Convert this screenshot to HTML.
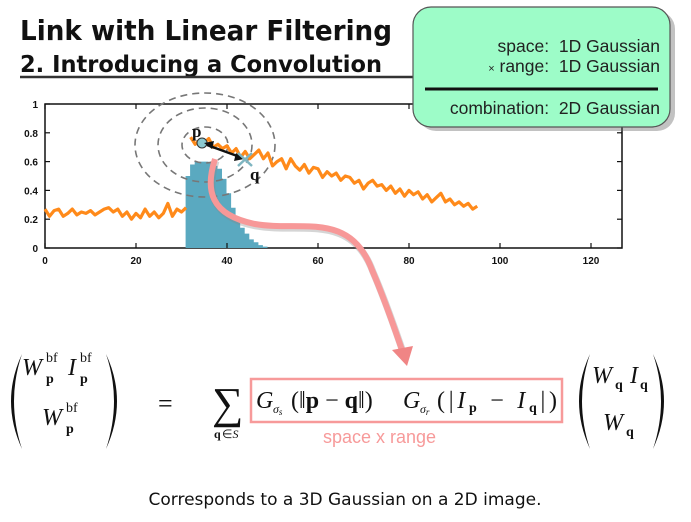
<!DOCTYPE html>
<html><head><meta charset="utf-8"><style>
html,body{margin:0;padding:0;background:#fff;}
svg{display:block;}
.s{font-family:"Liberation Serif",serif;}
</style></head><body>
<svg id="sv" width="691" height="522" viewBox="0 0 691 522" xmlns="http://www.w3.org/2000/svg">
<rect width="691" height="522" fill="#fff"/>
<text x="20" y="40" font-family="DejaVu Sans, sans-serif" font-weight="bold" font-size="28" textLength="372" lengthAdjust="spacingAndGlyphs" fill="#111">Link with Linear Filtering</text>
<text x="20" y="72" font-family="DejaVu Sans, sans-serif" font-weight="bold" font-size="23" textLength="362" lengthAdjust="spacingAndGlyphs" fill="#111">2. Introducing a Convolution</text>
<line x1="20" y1="77" x2="415" y2="77" stroke="#333" stroke-width="2.5"/>
<g id="plot">
<rect x="45" y="104" width="577" height="144" fill="none" stroke="#111" stroke-width="1.5"/>
<path id="hist" fill="#5aa9c0"/>
<g id="ticks" stroke="#111" stroke-width="1.2"></g>
<g font-family="Liberation Sans, sans-serif" font-size="10" font-weight="bold" fill="#111" id="lbl"></g>
<ellipse cx="205" cy="145" rx="70" ry="52" fill="none" stroke="#777" stroke-width="1.6" stroke-dasharray="7,5"/>
<ellipse cx="205" cy="145" rx="47" ry="37" fill="none" stroke="#777" stroke-width="1.6" stroke-dasharray="7,5"/>
<ellipse cx="205" cy="145" rx="23" ry="18" fill="none" stroke="#777" stroke-width="1.6" stroke-dasharray="7,5"/>
<path id="orange" fill="none" stroke="#ff8a1a" stroke-width="3.2" stroke-linejoin="round"/>
<circle cx="202" cy="143" r="5" fill="#8cc8d0" stroke="#333" stroke-width="1"/>
<line x1="207" y1="145" x2="240" y2="157" stroke="#111" stroke-width="2.5"/>
<polygon points="204,143 214,141 212,149" fill="#111"/>
<polygon points="244,159 234,161 236,153" fill="#111"/>
<path d="M238,153 L252,166 M252,153 L238,166" stroke="#7fb5c0" stroke-width="2.5"/>
<text x="192" y="137" class="s" font-size="17" font-weight="bold" fill="#111">p</text>
<text x="250" y="180" class="s" font-size="17" font-weight="bold" fill="#111">q</text>
</g>
<path d="M215,159 C205,190 210,215 255,224 C300,232 350,210 372,270 C385,300 395,330 402,350" fill="none" stroke="#888" stroke-width="7" opacity="0.35" transform="translate(1,2)"/>
<path d="M215,159 C205,190 210,215 255,224 C300,232 350,210 372,270 C385,300 395,330 402,350" fill="none" stroke="#f79898" stroke-width="6"/>
<polygon points="392,350 413,346 407,366" fill="#f08585"/>
<rect x="415" y="8" width="257" height="120" rx="18" fill="#666" opacity="0.4" transform="translate(3,3)"/>
<rect x="413" y="7" width="257" height="120" rx="18" fill="#9dfcc8" stroke="#555" stroke-width="1.2"/>
<g font-family="Liberation Sans, sans-serif" font-size="17.5" fill="#222" text-anchor="end">
<text x="660" y="52">space:&#160; 1D Gaussian</text>
<text x="660" y="72"><tspan font-size="11">×</tspan> range:&#160; 1D Gaussian</text>
<text x="660" y="114">combination:&#160; 2D Gaussian</text>
</g>
<line x1="425" y1="89" x2="658" y2="89" stroke="#111" stroke-width="3"/>
<g fill="#111">
<path d="M22,354 Q0,401 22,449 Q6,401 22,354Z"/>
<path d="M106,354 Q128,401 106,449 Q122,401 106,354Z"/>
<path d="M590,354 Q568,401 590,449 Q574,401 590,354Z"/>
<path d="M653,354 Q675,401 653,449 Q669,401 653,354Z"/>
</g>
<g class="s" fill="#111">
<text x="22" y="375" font-size="24" font-style="italic">W</text>
<text x="46" y="362" font-size="14">bf</text>
<text x="46" y="383" font-size="14" font-weight="bold">p</text>
<text x="68" y="375" font-size="24" font-style="italic">I</text>
<text x="80" y="362" font-size="14">bf</text>
<text x="80" y="383" font-size="14" font-weight="bold">p</text>
<text x="42" y="425" font-size="24" font-style="italic">W</text>
<text x="66" y="412" font-size="14">bf</text>
<text x="66" y="433" font-size="14" font-weight="bold">p</text>
<text x="158" y="412" font-size="26">=</text>
<text x="212" y="418" font-size="44">∑</text>
<text x="214" y="438" font-size="12" font-weight="bold">q</text><text x="222" y="438" font-size="12">∈<tspan font-style="italic">S</tspan></text>
<text x="256" y="408" font-size="24" font-style="italic">G</text>
<text x="273" y="413" font-size="12" font-style="italic">σ<tspan font-size="9" dy="2">s</tspan></text>
<text x="291" y="408" font-size="24">(‖<tspan font-weight="bold">p</tspan> − <tspan font-weight="bold">q</tspan>‖)</text>
<text x="403" y="408" font-size="24" font-style="italic">G</text>
<text x="420" y="413" font-size="12" font-style="italic">σ<tspan font-size="9" dy="2">r</tspan></text>
<text x="437" y="408" font-size="24" textLength="120" lengthAdjust="spacing">(|<tspan font-style="italic">I</tspan><tspan font-size="14" font-weight="bold" dy="4">p</tspan><tspan dy="-4"> − </tspan><tspan font-style="italic">I</tspan><tspan font-size="14" font-weight="bold" dy="4">q</tspan><tspan dy="-4">|)</tspan></text>
<text x="592" y="383" font-size="24" font-style="italic">W</text>
<text x="615" y="389" font-size="14" font-weight="bold">q</text>
<text x="630" y="383" font-size="24" font-style="italic">I</text>
<text x="640" y="389" font-size="14" font-weight="bold">q</text>
<text x="603" y="430" font-size="24" font-style="italic">W</text>
<text x="626" y="436" font-size="14" font-weight="bold">q</text>
</g>
<rect x="251" y="379" width="311" height="43" fill="none" stroke="#f79a9a" stroke-width="2.5"/>
<text x="323" y="443" font-family="Liberation Sans, sans-serif" font-size="18" fill="#f79a9a">space x range</text>
<text x="345" y="505" text-anchor="middle" font-family="DejaVu Sans, sans-serif" font-size="17" fill="#111">Corresponds to a 3D Gaussian on a 2D image.</text>
</svg>
<script>
var X=function(u){return 45+4.55*u},Y=function(v){return 248-144*v};
var v1=[.27,.22,.26,.27,.22,.24,.27,.23,.25,.24,.26,.23,.25,.27,.28,.25,.27,.22,.25,.2,.24,.21,.27,.22,.25,.21,.24,.31,.22,.27,.25,.28];
var v2=[.77,.72,.75,.73,.76,.7,.72,.69,.71,.66,.69,.63,.67,.62,.65,.68,.62,.66,.57,.6,.62,.55,.62,.57,.54,.58,.52,.56,.55,.49,.53,.5,.52,.47,.5,.49,.45,.47,.41,.45,.47,.43,.44,.4,.43,.38,.41,.36,.4,.37,.39,.34,.37,.32,.35,.38,.32,.34,.3,.32,.29,.31,.27,.29];
var d="M"+X(0)+","+Y(v1[0]);
for(var i=1;i<v1.length;i++)d+=" L"+X(i)+","+Y(v1[i]).toFixed(1);
d+=" M"+X(32)+","+Y(v2[0]);
for(var i=1;i<v2.length;i++)d+=" L"+X(32+i)+","+Y(v2[i]).toFixed(1);
document.getElementById("orange").setAttribute("d",d);
var h=[.5,.58,.6,.6,.6,.59,.57,.55,.48,.38,.28,.2,.14,.1,.06,.04,.02,.01];
var hd="M"+X(30.9).toFixed(1)+",248";
for(var i=0;i<h.length;i++){hd+=" L"+X(30.9+i).toFixed(1)+","+Y(h[i]).toFixed(1)+" L"+X(31.9+i).toFixed(1)+","+Y(h[i]).toFixed(1);}
hd+=" L"+X(30.9+h.length).toFixed(1)+",248Z";
document.getElementById("hist").setAttribute("d",hd);
var t="",l="";
for(var u=0;u<=120;u+=20){t+='<line x1="'+X(u)+'" y1="248" x2="'+X(u)+'" y2="243"/><line x1="'+X(u)+'" y1="104" x2="'+X(u)+'" y2="109"/>';l+='<text x="'+X(u)+'" y="264" text-anchor="middle">'+u+'</text>';}
var ys=["0","0.2","0.4","0.6","0.8","1"];
for(var k=0;k<6;k++){var y=Y(k*.2);t+='<line x1="45" y1="'+y+'" x2="50" y2="'+y+'"/><line x1="617" y1="'+y+'" x2="622" y2="'+y+'"/>';l+='<text x="38" y="'+(y+4)+'" text-anchor="end">'+ys[k]+'</text>';}
document.getElementById("ticks").innerHTML=t;
document.getElementById("lbl").innerHTML=l;
</script>
</body></html>
